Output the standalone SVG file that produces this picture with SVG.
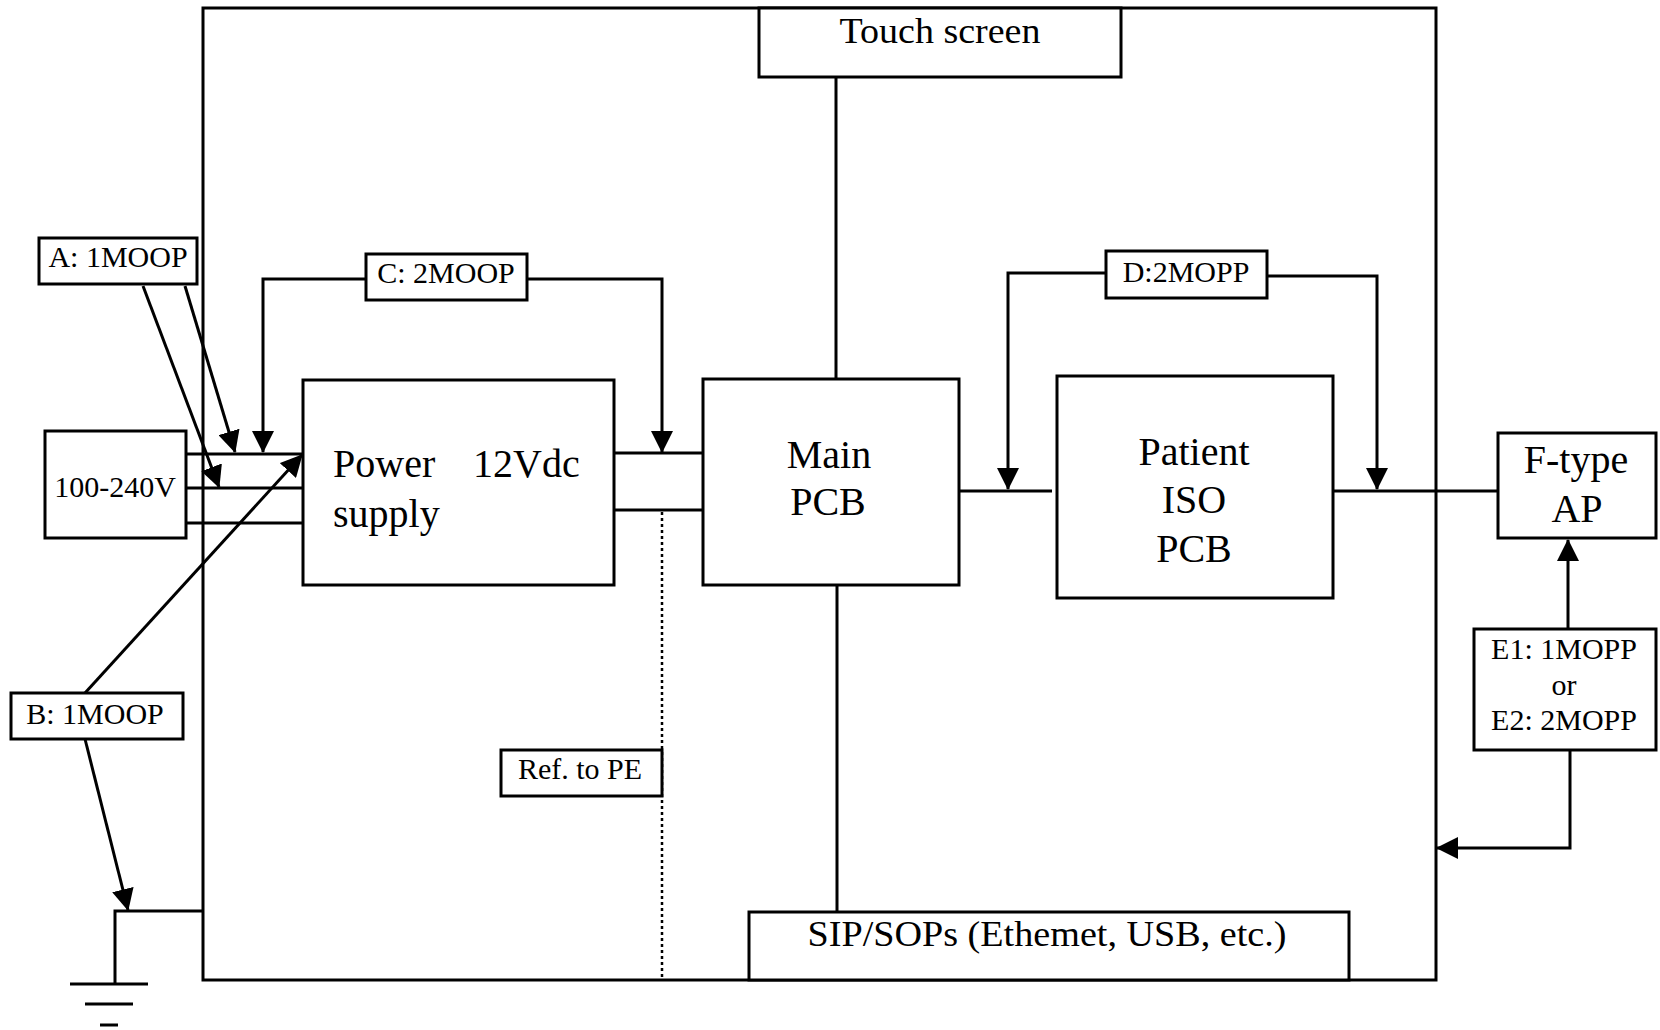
<svg xmlns="http://www.w3.org/2000/svg" width="1660" height="1030" viewBox="0 0 1660 1030">
<style>
  .box { fill: #fff; stroke: #000; stroke-width: 3; }
  .ln { fill: none; stroke: #000; stroke-width: 3; }
  .arr { fill: none; stroke: #000; stroke-width: 3; marker-end: url(#ah); }
  .dot { fill: none; stroke: #000; stroke-width: 2.5; stroke-dasharray: 3 3; }
  .big { font-family: "Liberation Serif", "Times New Roman", serif; font-size: 40px; fill: #000; }
  .sm { font-family: "Liberation Serif", "Times New Roman", serif; font-size: 30px; fill: #000; }
  .md { font-family: "Liberation Serif", "Times New Roman", serif; font-size: 35px; fill: #000; }
  .c { text-anchor: middle; }
</style>
<defs>
  <marker id="ah" markerUnits="userSpaceOnUse" markerWidth="22" markerHeight="22" refX="21" refY="11" orient="auto">
    <path d="M0,0 L22,11 L0,22 Z" fill="#000"/>
  </marker>
</defs>
<rect width="1660" height="1030" fill="#fff"/>

<g id="enclosure">
  <rect class="box" x="203" y="8" width="1233" height="972" fill="none"/>
</g>

<g id="connectors">
  <line class="ln" x1="836" y1="72" x2="836" y2="379"/>
  <line class="ln" x1="837" y1="585" x2="837" y2="912"/>
  <line class="ln" x1="182" y1="454" x2="304" y2="454"/>
  <line class="ln" x1="186" y1="488" x2="304" y2="488"/>
  <line class="ln" x1="182" y1="523" x2="304" y2="523"/>
  <line class="ln" x1="614" y1="453" x2="703" y2="453"/>
  <line class="ln" x1="614" y1="510" x2="703" y2="510"/>
  <line class="dot" x1="662" y1="512" x2="662" y2="980"/>
  <line class="ln" x1="959" y1="491" x2="1052" y2="491"/>
  <line class="ln" x1="1333" y1="491" x2="1498" y2="491"/>
  <line class="arr" x1="143" y1="286" x2="219" y2="487"/>
  <line class="arr" x1="185" y1="286" x2="235" y2="452"/>
  <polyline class="arr" points="366,279 263,279 263,452"/>
  <polyline class="arr" points="527,279 662,279 662,452"/>
  <line class="arr" x1="85" y1="693" x2="302" y2="455"/>
  <line class="arr" x1="85" y1="739" x2="128" y2="910"/>
  <polyline class="ln" points="203,911 115,911 115,984"/>
  <line class="ln" x1="70" y1="984" x2="148" y2="984" stroke-width="4"/>
  <line class="ln" x1="85" y1="1004" x2="133" y2="1004" stroke-width="4"/>
  <line class="ln" x1="100" y1="1025" x2="118" y2="1025" stroke-width="4"/>
  <polyline class="arr" points="1106,273 1008,273 1008,489"/>
  <polyline class="arr" points="1267,276 1377,276 1377,489"/>
  <line class="arr" x1="1568" y1="629" x2="1568" y2="540"/>
  <polyline class="arr" points="1570,750 1570,848 1437,848"/>
</g>

<g id="touch-screen">
  <rect class="box" x="759" y="8" width="362" height="69"/>
  <text class="md c" x="940" y="43" textLength="201" lengthAdjust="spacingAndGlyphs">Touch screen</text>
</g>

<g id="main-pcb">
  <rect class="box" x="703" y="379" width="256" height="206"/>
  <text class="big c" x="829" y="468">Main</text>
  <text class="big c" x="828" y="515">PCB</text>
</g>

<g id="power-supply">
  <rect class="box" x="303" y="380" width="311" height="205"/>
  <text class="big"><tspan x="333" y="477">Power</tspan><tspan x="473" y="477">12Vdc</tspan><tspan x="333" y="527">supply</tspan></text>
</g>

<g id="mains">
  <rect class="box" x="45" y="431" width="141" height="107"/>
  <text class="sm c" x="115" y="497">100-240V</text>
</g>

<g id="label-a">
  <rect class="box" x="39" y="238" width="158" height="46"/>
  <text class="sm c" x="118" y="267">A: 1MOOP</text>
</g>

<g id="label-b">
  <rect class="box" x="11" y="693" width="172" height="46"/>
  <text class="sm c" x="95" y="724">B: 1MOOP</text>
</g>

<g id="label-c">
  <rect class="box" x="366" y="254" width="161" height="46"/>
  <text class="sm c" x="446" y="283">C: 2MOOP</text>
</g>

<g id="label-d">
  <rect class="box" x="1106" y="251" width="161" height="47"/>
  <text class="sm c" x="1186" y="282">D:2MOPP</text>
</g>

<g id="ref-pe">
  <rect class="box" x="501" y="750" width="161" height="46"/>
  <text class="sm c" x="580" y="779">Ref. to PE</text>
</g>

<g id="sip-sop">
  <rect class="box" x="749" y="912" width="600" height="68"/>
  <text class="md c" x="1047" y="946" textLength="479" lengthAdjust="spacingAndGlyphs">SIP/SOPs (Ethemet, USB, etc.)</text>
</g>

<g id="patient-iso">
  <rect class="box" x="1057" y="376" width="276" height="222"/>
  <text class="big c" x="1194" y="465">Patient</text>
  <text class="big c" x="1194" y="513">ISO</text>
  <text class="big c" x="1194" y="562">PCB</text>
</g>

<g id="f-type-ap">
  <rect class="box" x="1498" y="433" width="158" height="105"/>
  <text class="big c" x="1576" y="473">F-type</text>
  <text class="big c" x="1577" y="522">AP</text>
</g>

<g id="label-e">
  <rect class="box" x="1474" y="629" width="182" height="121"/>
  <text class="sm c" x="1564" y="659">E1: 1MOPP</text>
  <text class="sm c" x="1564" y="695">or</text>
  <text class="sm c" x="1564" y="730">E2: 2MOPP</text>
</g>
</svg>
